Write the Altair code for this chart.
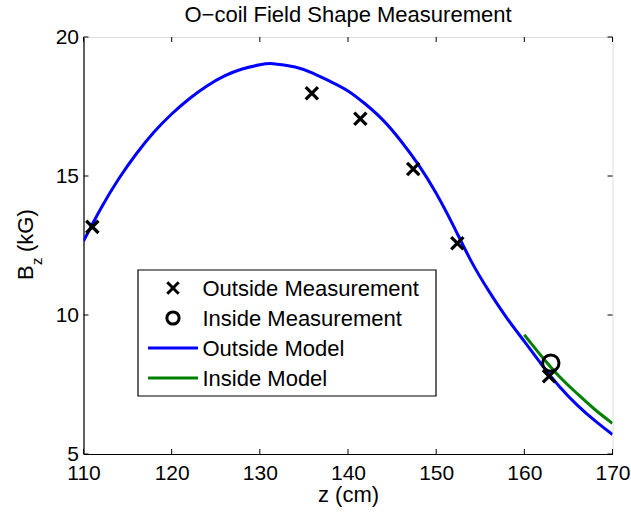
import altair as alt
import pandas as pd

# ---- data ----
outside_z = [111.0, 135.9, 141.4, 147.4, 152.4, 162.8]
outside_b = [13.17, 17.98, 17.06, 15.25, 12.58, 7.80]

inside_z = [163.0]
inside_b = [8.27]

model_out_z = [110, 112, 114, 116, 118, 120, 122, 124, 126, 128, 130, 131.5,
               134, 136, 138, 140, 142, 144, 146, 148, 150, 152, 154, 156,
               158, 160, 162, 164, 166, 168, 170]
model_out_b = [12.66, 13.85, 14.90, 15.80, 16.58, 17.23, 17.78, 18.24, 18.60,
               18.85, 19.00, 19.04, 18.92, 18.70, 18.40, 18.06, 17.58, 17.00,
               16.26, 15.40, 14.38, 13.18, 11.92, 10.85, 9.90, 9.05, 8.20,
               7.42, 6.76, 6.20, 5.70]

model_in_z = [160, 162, 164, 166, 168, 170]
model_in_b = [9.29, 8.50, 7.78, 7.17, 6.60, 6.10]

x_ticks = [110, 120, 130, 140, 150, 160, 170]
y_ticks = [5, 10, 15, 20]

legend_labels = ["Outside Measurement", "Inside Measurement", "Outside Model", "Inside Model"]

# ---- layout ----
W, H = 529, 417
FONT = "Liberation Sans"
X_PATH = "M-1,-1L1,1M-1,1L1,-1"

xs = alt.Scale(domain=[110, 170], nice=False, zero=False)
ys = alt.Scale(domain=[5, 20], nice=False, zero=False)

out_df = pd.DataFrame({"z": outside_z, "b": outside_b})
in_df = pd.DataFrame({"z": inside_z, "b": inside_b})
mo_df = pd.DataFrame({"z": model_out_z, "b": model_out_b})
mi_df = pd.DataFrame({"z": model_in_z, "b": model_in_b})
xt_df = pd.DataFrame({"t": x_ticks})
yt_df = pd.DataFrame({"t": y_ticks})

xax = alt.X("z:Q", scale=xs, axis=alt.Axis(values=x_ticks, title="z (cm)", grid=False,
            tickSize=0, labelPadding=8, labelFontSize=21, titleFontSize=22,
            titlePadding=1, labelFont=FONT, titleFont=FONT, titleFontWeight="normal",
            labelColor="black", titleColor="black", domainColor="black",
            domainWidth=1.2, labelFlush=False))
yax = alt.Y("b:Q", scale=ys, axis=alt.Axis(values=y_ticks, title=None, grid=False,
            tickSize=0, labelPadding=5, labelFontSize=21, labelFont=FONT,
            labelColor="black", domainColor="black", domainWidth=1.2, labelFlush=False))

blue = alt.Chart(mo_df).mark_line(color="#0000FF", strokeWidth=3, clip=True,
                                  interpolate="natural").encode(x=xax, y=yax)
green = alt.Chart(mi_df).mark_line(color="#008000", strokeWidth=3, clip=True,
                                   interpolate="natural").encode(x="z:Q", y="b:Q")
xpts = alt.Chart(out_df).mark_point(shape=X_PATH, filled=False, stroke="black",
                                    strokeWidth=3.2, size=150, opacity=1).encode(x="z:Q", y="b:Q")
opts = alt.Chart(in_df).mark_point(shape="circle", filled=False, stroke="black",
                                   strokeWidth=3, size=270, opacity=1).encode(x="z:Q", y="b:Q")

# inward ticks on all four sides
tk = 5
bt = alt.Chart(xt_df).mark_rule(color="black", strokeWidth=1).encode(
    x="t:Q", y=alt.value(H), y2=alt.value(H - tk))
tt = alt.Chart(xt_df).mark_rule(color="black", strokeWidth=1).encode(
    x="t:Q", y=alt.value(0), y2=alt.value(tk))
lt = alt.Chart(yt_df).mark_rule(color="black", strokeWidth=1).encode(
    y="t:Q", x=alt.value(0), x2=alt.value(tk))
rt = alt.Chart(yt_df).mark_rule(color="black", strokeWidth=1).encode(
    y="t:Q", x=alt.value(W), x2=alt.value(W - tk))

# ---- legend box (drawn manually) ----
LX0, LX1, LY0, LY1 = 54.5, 352.5, 233, 359
rows = [251, 281, 311, 341]
base = alt.Chart(pd.DataFrame({"k": [0]}))
box = base.mark_rect(fill="white", stroke="black", strokeWidth=1.2).encode(
    x=alt.value(LX0), x2=alt.value(LX1), y=alt.value(LY0), y2=alt.value(LY1))
leg_x = base.mark_point(shape=X_PATH, filled=False, stroke="black", strokeWidth=3,
                        size=130, opacity=1).encode(x=alt.value(89.5), y=alt.value(rows[0]))
leg_o = base.mark_point(shape="circle", filled=False, stroke="black", strokeWidth=3,
                        size=150, opacity=1).encode(x=alt.value(89.5), y=alt.value(rows[1]))
leg_b = base.mark_rule(color="#0000FF", strokeWidth=3).encode(
    x=alt.value(64.5), x2=alt.value(114.5), y=alt.value(rows[2]))
leg_g = base.mark_rule(color="#008000", strokeWidth=3).encode(
    x=alt.value(64.5), x2=alt.value(114.5), y=alt.value(rows[3]))
leg_txt = [
    base.mark_text(text=lab, align="left", baseline="middle", font=FONT, fontSize=22,
                   color="black").encode(x=alt.value(119), y=alt.value(r + 1))
    for lab, r in zip(legend_labels, rows)
]

# ---- y title with subscript ----
yt_B = base.mark_text(text="B", angle=270, align="left", baseline="alphabetic",
                      font=FONT, fontSize=22, color="black").encode(
    x=alt.value(-50.5), y=alt.value(243))
yt_z = base.mark_text(text="z", angle=270, align="left", baseline="alphabetic",
                      font=FONT, fontSize=15, color="black").encode(
    x=alt.value(-42), y=alt.value(228))
yt_r = base.mark_text(text="(kG)", angle=270, align="left", baseline="alphabetic",
                      font=FONT, fontSize=22, color="black").encode(
    x=alt.value(-50.5), y=alt.value(215))

chart = alt.layer(
    blue, green, bt, tt, lt, rt, xpts, opts,
    box, leg_x, leg_o, leg_b, leg_g, *leg_txt, yt_B, yt_z, yt_r
).properties(
    width=W, height=H,
    title=alt.TitleParams("O\u2212coil Field Shape Measurement", font=FONT, fontSize=22,
                          fontWeight="normal", color="black", offset=6, dy=7,
                          anchor="middle"),
    autosize=alt.AutoSizeParams(type="none"),
    padding={"left": 83.5, "top": 37, "right": 18.5, "bottom": 58},
).configure_view(stroke="black", strokeWidth=1.2).configure(background="white")

chart.save("out.html", embed_options={"renderer": "svg", "actions": False})
